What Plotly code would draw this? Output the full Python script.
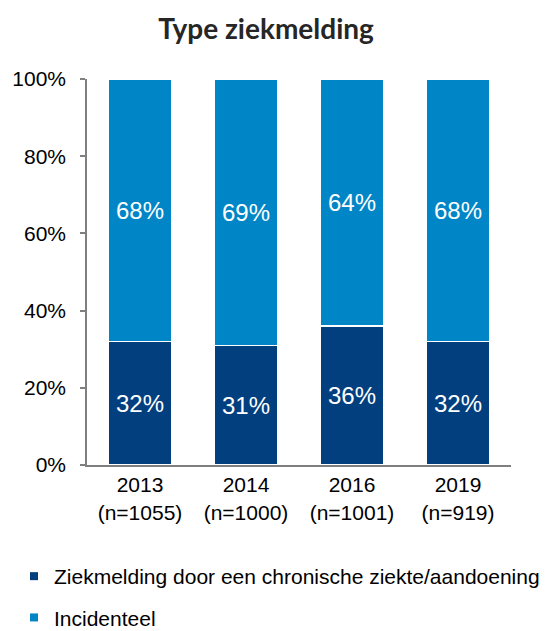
import plotly.graph_objects as go

years = ["2013", "2014", "2016", "2019"]
n_values = [1055, 1000, 1001, 919]
chronisch = [32, 31, 36, 32]
incidenteel = [68, 69, 64, 68]
series_names = ["Ziekmelding door een chronische ziekte/aandoening", "Incidenteel"]
colors = ["#023F7F", "#0086C6"]
y_ticks = [0, 20, 40, 60, 80, 100]

categories = [f"{y}<br>(n={n})" for y, n in zip(years, n_values)]

# page body has an 8px default margin, so the figure is sized to fit inside the window
W, H = 543, 623

fig = go.Figure()
for name, vals, col in zip(series_names, [chronisch, incidenteel], colors):
    fig.add_trace(go.Bar(
        x=categories, y=vals, name=name,
        text=[f"{v}%" for v in vals], texttemplate="%{text}",
        marker=dict(color=col, line=dict(color="white", width=1.5)),
        textposition="inside", insidetextanchor="middle",
        textangle=0,
        textfont=dict(color="white", size=24, family="Liberation Sans, Arial"),
        showlegend=False, hoverinfo="skip",
    ))
# legend entries with small square symbols (points kept below the visible range)
for i, (name, col) in enumerate(zip(series_names, colors)):
    fig.add_trace(go.Scatter(
        x=[categories[0]], y=[-50], mode="markers", name=name,
        marker=dict(symbol="square", size=8, color=col),
        legendgroup=f"g{i}", showlegend=True, hoverinfo="skip",
    ))

fig.update_layout(
    width=W, height=H,
    barmode="stack", bargap=0.4,
    paper_bgcolor="white", plot_bgcolor="white",
    margin=dict(l=79, r=40, t=71, b=166, autoexpand=False),
    font=dict(family="Liberation Sans, Arial", color="#000000", size=21),
    title=dict(
        text="Type ziekmelding",
        font=dict(family="Lato", size=28, color="#262626", weight="bold"),
        x=258 / W, xanchor="center", xref="container",
        y=1 - 21 / H, yanchor="middle", yref="container",
    ),
    legend=dict(
        orientation="v", xref="container", yref="container",
        x=6 / W, xanchor="left", y=1 - 548 / H, yanchor="top",
        font=dict(size=21, family="Liberation Sans, Arial", color="#000000"),
        tracegroupgap=11, bgcolor="rgba(0,0,0,0)",
    ),
    xaxis=dict(
        type="category",
        showline=True, linecolor="#7F7F7F", linewidth=2,
        ticks="", showgrid=False, tickfont=dict(size=21),
    ),
    yaxis=dict(
        range=[0, 100], tickmode="array", tickvals=y_ticks,
        ticktext=[f"{v}%" for v in y_ticks],
        showline=True, linecolor="#7F7F7F", linewidth=1.5,
        ticks="outside", ticklen=5, tickcolor="#7F7F7F", tickwidth=1.5,
        showgrid=False, zeroline=False, tickfont=dict(size=21),
        ticklabelstandoff=10,
    ),
)

fig.write_html("out.html")
